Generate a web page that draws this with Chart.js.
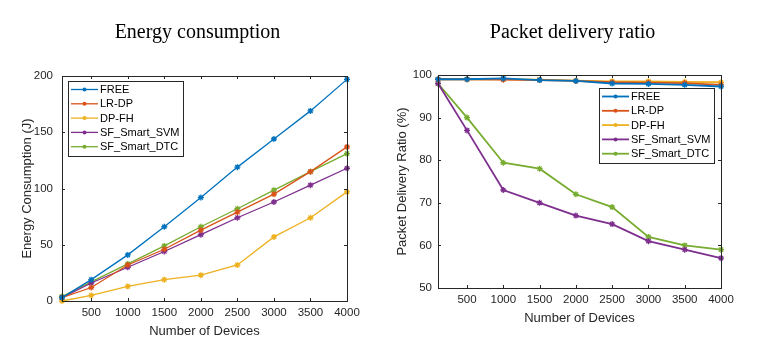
<!DOCTYPE html>
<html>
<head>
<meta charset="utf-8">
<script src="https://cdn.jsdelivr.net/npm/chart.js@4.4.1/dist/chart.umd.min.js"></script>
<style>
  body { margin: 0; background: #fff; width: 772px; height: 353px; overflow: hidden; position: relative; }
  .box { position: absolute; top: 0; width: 386px; height: 353px; }
</style>
</head>
<body>
<div class="box" style="left:0"><canvas id="energy" width="386" height="353"></canvas></div>
<div class="box" style="left:386px"><canvas id="pdr" width="386" height="353"></canvas></div>
<script>
// number of devices on x
const devices = [100, 500, 1000, 1500, 2000, 2500, 3000, 3500, 4000];
const xTicks = [500, 1000, 1500, 2000, 2500, 3000, 3500, 4000];
const methods = ['FREE', 'LR-DP', 'DP-FH', 'SF_Smart_SVM', 'SF_Smart_DTC'];
const colors = ['#0072BD', '#D95319', '#EDB120', '#7E2F8E', '#77AC30'];

// energy consumption (J)
const energyFree = [3, 19, 41, 66, 92, 119, 144, 169, 197];
const energyLrdp = [3, 12, 32, 46, 63, 79, 95, 115, 137];
const energyDpfh = [0, 5, 13, 19, 23, 32, 57, 74, 97];
const energySvm = [3, 16, 30, 44, 59, 74, 88, 103, 118];
const energyDtc = [4, 17, 33, 49, 66, 82, 98.5, 115, 131];

// packet delivery ratio (%)
const pdrFree = [99, 99, 99.2, 98.8, 98.6, 98, 97.9, 97.7, 97.3];
const pdrLrdp = [99, 99, 98.9, 98.8, 98.6, 98.3, 98.2, 98.1, 97.7];
const pdrDpfh = [99, 99, 99, 98.9, 98.7, 98.5, 98.5, 98.4, 98.3];
const pdrSvm = [98, 87, 73, 70, 67, 65, 61, 59, 57];
const pdrDtc = [98, 90, 79.4, 78, 72, 69, 62, 60, 59];

const axisColor = '#262626';

function makeSets(series, lw) {
  return series.map((vals, i) => ({
    label: methods[i],
    data: devices.map((d, j) => ({ x: d, y: vals[j] })),
    borderColor: colors[i],
    backgroundColor: colors[i],
    borderWidth: lw,
    pointStyle: 'star',
    pointRadius: 3,
    pointBorderWidth: 1.3,
    tension: 0,
    clip: false
  }));
}

// box, inward ticks, legend and title drawn like a matlab figure
const matlabLook = {
  id: 'matlabLook',
  afterDraw(chart, args, opts) {
    const ctx = chart.ctx;
    const a = chart.chartArea;
    const xs = chart.scales.x, ys = chart.scales.y;
    ctx.save();
    ctx.strokeStyle = axisColor;
    ctx.lineWidth = 1;
    ctx.strokeRect(Math.round(a.left) + 0.5, Math.round(a.top) + 0.5, Math.round(a.right - a.left), Math.round(a.bottom - a.top));
    ctx.beginPath();
    xTicks.forEach(v => {
      const px = Math.round(xs.getPixelForValue(v)) + 0.5;
      ctx.moveTo(px, a.bottom); ctx.lineTo(px, a.bottom - 3);
      ctx.moveTo(px, a.top); ctx.lineTo(px, a.top + 3);
    });
    ys.ticks.forEach(t => {
      const py = Math.round(ys.getPixelForValue(t.value)) + 0.5;
      ctx.moveTo(a.left, py); ctx.lineTo(a.left + 3, py);
      ctx.moveTo(a.right, py); ctx.lineTo(a.right - 3, py);
    });
    ctx.stroke();

    // legend
    ctx.font = '11px "Liberation Sans", Arial, sans-serif';
    const rowH = 14.3;
    const lineLen = 27;
    let maxW = 0;
    methods.forEach(m => { maxW = Math.max(maxW, ctx.measureText(m).width); });
    const w = 3 + lineLen + 2 + maxW + 4;
    const h = rowH * methods.length + 3;
    const bx = opts.legendRight ? a.right - opts.legendRight - w : a.left + opts.legendLeft;
    const by = a.top + opts.legendTop;
    ctx.fillStyle = '#fff';
    ctx.fillRect(bx, by, w, h);
    ctx.strokeStyle = axisColor;
    ctx.strokeRect(Math.round(bx) + 0.5, Math.round(by) + 0.5, Math.round(w), Math.round(h));
    methods.forEach((m, i) => {
      const y = by + 8.5 + i * rowH;
      ctx.strokeStyle = colors[i];
      ctx.lineWidth = opts.lw;
      ctx.beginPath();
      ctx.moveTo(bx + 3, y); ctx.lineTo(bx + 3 + lineLen, y);
      ctx.stroke();
      ctx.fillStyle = colors[i];
      ctx.beginPath();
      ctx.arc(bx + 3 + lineLen / 2, y, 2, 0, Math.PI * 2);
      ctx.fill();
      ctx.fillStyle = '#000';
      ctx.textBaseline = 'middle';
      ctx.fillText(m, bx + 5 + lineLen, y + 0.5);
    });

    // title
    ctx.font = '20px "Liberation Serif", "Times New Roman", serif';
    ctx.fillStyle = '#000';
    ctx.textAlign = 'center';
    ctx.textBaseline = 'alphabetic';
    ctx.fillText(opts.title, opts.titleX, 38);
    ctx.restore();
  }
};

function makeChart(id, series, cfg) {
  return new Chart(document.getElementById(id), {
    type: 'line',
    data: { datasets: makeSets(series, cfg.lw) },
    plugins: [matlabLook],
    options: {
      responsive: false,
      animation: false,
      layout: { padding: cfg.padding },
      plugins: {
        legend: { display: false },
        tooltip: { enabled: false },
        matlabLook: cfg.look
      },
      scales: {
        x: {
          type: 'linear',
          min: 100,
          max: 4000,
          afterBuildTicks: s => { s.ticks = xTicks.map(v => ({ value: v })); },
          afterFit: s => { s.height = cfg.xHeight; },
          grid: { display: false, drawTicks: false },
          border: { display: false },
          ticks: {
            padding: 5,
            color: axisColor,
            font: { family: '"Liberation Sans", Arial, sans-serif', size: 11.5 },
            callback: v => String(v),
            maxRotation: 0
          },
          title: {
            display: true,
            text: 'Number of Devices',
            color: axisColor,
            padding: { top: 0, bottom: 4 },
            font: { family: '"Liberation Sans", Arial, sans-serif', size: 13 }
          }
        },
        y: {
          min: cfg.yMin,
          max: cfg.yMax,
          afterFit: s => { s.width = cfg.yWidth; },
          grid: { display: false, drawTicks: false },
          border: { display: false },
          ticks: {
            stepSize: cfg.yStep,
            padding: cfg.yPad,
            color: axisColor,
            font: { family: '"Liberation Sans", Arial, sans-serif', size: 11.5 }
          },
          title: {
            display: true,
            text: cfg.yTitle,
            color: axisColor,
            padding: { top: 4, bottom: 0 },
            font: { family: '"Liberation Sans", Arial, sans-serif', size: 13 }
          }
        }
      }
    }
  });
}

makeChart('energy', [energyFree, energyLrdp, energyDpfh, energySvm, energyDtc], {
  lw: 1.3,
  padding: { top: 76, left: 16, right: 39, bottom: 10 },
  xHeight: 42,
  yWidth: 46,
  yMin: 0, yMax: 200, yStep: 50, yPad: 9,
  yTitle: 'Energy Consumption (J)',
  look: { title: 'Energy consumption', titleX: 197.5, legendLeft: 6, legendTop: 5, lw: 1.3 }
});

makeChart('pdr', [pdrFree, pdrLrdp, pdrDpfh, pdrSvm, pdrDtc], {
  lw: 1.8,
  padding: { top: 75, left: 5, right: 51, bottom: 23 },
  xHeight: 42,
  yWidth: 47,
  yMin: 50, yMax: 100, yStep: 10, yPad: 6,
  yTitle: 'Packet Delivery Ratio (%)',
  look: { title: 'Packet delivery ratio', titleX: 186.5, legendRight: 6.5, legendTop: 13, lw: 1.8 }
});
</script>
</body>
</html>
